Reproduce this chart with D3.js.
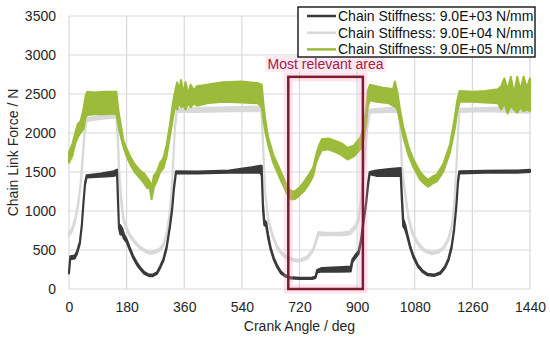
<!DOCTYPE html>
<html>
<head>
<meta charset="utf-8">
<script src="https://cdn.jsdelivr.net/npm/d3@7"></script>
<style>
  body { margin: 0; background: #fff; }
  svg { font-family: "Liberation Sans", Arial, sans-serif; }
</style>
</head>
<body>
<div id="chart"></div>
<script>
// Width and height
var chart_width  = 550;
var chart_height = 340;
var margin = {top: 16, right: 20, bottom: 51, left: 69};

// tick labels
var xTicks = [0, 180, 360, 540, 720, 900, 1080, 1260, 1440];
var yTicks = [0, 500, 1000, 1500, 2000, 2500, 3000, 3500];

// series names
var seriesNames = ['Chain Stiffness: 9.0E+03 N/mm', 'Chain Stiffness: 9.0E+04 N/mm', 'Chain Stiffness: 9.0E+05 N/mm'];

// 9.0E+03 N/mm : crank angle, lower and upper envelope of the force band
var angleK3 = [0,4,18,25,34,40,45,50,55,100,140,150,153,156,160,166,172,180,190,200,212,222,235,250,262,275,285,295,305,315,322,328,334,400,500,570,598,602,606,610,616,622,630,640,650,662,675,690,720,760,770,775,790,840,880,885,895,905,912,920,928,934,939,960,1000,1036,1040,1044,1050,1056,1066,1076,1090,1105,1120,1140,1160,1175,1185,1195,1203,1210,1215,1219,1300,1400,1440];
var loK3 = [200,380,390,450,580,800,1080,1330,1430,1440,1450,1460,1100,780,700,700,640,600,500,400,310,255,195,165,165,195,270,360,520,780,1000,1280,1480,1480,1490,1490,1490,1450,1000,820,800,650,500,370,280,200,160,135,128,128,140,210,225,220,225,340,400,450,600,840,1080,1320,1470,1450,1450,1450,1100,800,760,680,520,400,285,215,175,165,195,270,360,520,750,1050,1350,1480,1490,1490,1500];
var hiK3 = [230,420,430,480,610,830,1110,1360,1460,1480,1510,1530,1200,830,820,780,700,640,530,430,340,280,220,185,185,215,295,390,550,810,1040,1320,1510,1505,1520,1560,1580,1580,1100,880,860,700,530,400,305,225,180,155,145,148,160,245,270,280,290,380,440,490,640,880,1120,1360,1500,1520,1540,1550,1200,900,830,720,550,430,310,235,195,185,215,295,390,550,780,1090,1390,1510,1515,1520,1530];

// 9.0E+04 N/mm
var angleK4 = [0,10,19,28,36,42,48,55,80,120,148,152,157,163,170,180,192,205,222,240,253,268,284,296,305,313,320,326,331,337,400,500,600,604,608,613,622,635,649,665,680,700,722,745,763,772,779,800,850,878,895,904,912,919,926,932,940,1000,1030,1035,1040,1050,1060,1070,1080,1095,1110,1133,1150,1169,1185,1196,1204,1211,1216,1220,1300,1380,1440];
var loK4 = [680,740,860,1050,1300,1600,1950,2150,2170,2190,2200,1900,1400,1100,880,760,660,590,520,470,450,460,490,560,700,900,1220,1650,2050,2270,2270,2280,2280,2000,1650,1200,880,680,530,440,390,360,350,390,490,600,690,690,690,700,780,870,1100,1420,1800,2060,2260,2270,2270,2000,1500,1200,900,740,640,540,480,445,460,505,620,790,1100,1630,2050,2270,2280,2270,2260];
var hiK4 = [720,780,900,1100,1350,1680,2000,2190,2210,2230,2260,2100,1500,1200,920,790,690,615,545,500,475,490,520,590,730,940,1260,1700,2100,2310,2320,2330,2340,2150,1700,1250,920,710,560,470,420,385,375,420,520,640,730,720,720,740,820,900,1150,1470,1860,2110,2300,2320,2330,2100,1600,1250,950,780,670,570,510,475,490,535,650,820,1150,1680,2100,2310,2320,2330,2320];

// 9.0E+05 N/mm
var angleK5 = [0,10,20,28,36,45,52,57,80,110,148,154,162,170,180,191,205,222,235,245,252,258,265,274,285,295,305,315,325,332,338,345,350,357,364,372,380,390,400,430,480,540,590,602,608,614,622,638,659,680,692,705,720,735,750,763,772,780,790,810,830,850,870,890,910,920,928,934,940,960,980,1000,1012,1018,1026,1034,1044,1060,1076,1097,1110,1122,1135,1149,1169,1190,1205,1212,1220,1260,1300,1340,1350,1360,1370,1380,1390,1400,1410,1420,1430,1440];
var loK5 = [1620,1700,1870,1950,2000,2050,2200,2230,2240,2240,2250,2100,1950,1820,1700,1600,1500,1420,1350,1290,1300,1150,1300,1380,1500,1550,1700,1950,2200,2350,2300,2400,2330,2350,2300,2380,2330,2380,2350,2380,2400,2390,2380,2330,2150,2000,1850,1620,1420,1230,1150,1150,1200,1260,1350,1450,1620,1700,1780,1790,1760,1720,1660,1700,1790,1900,2100,2350,2420,2400,2390,2380,2350,2340,2300,2150,1950,1720,1560,1400,1350,1310,1350,1380,1500,1750,2050,2250,2400,2400,2390,2380,2300,2380,2250,2350,2300,2260,2330,2280,2300,2280];
var hiK5 = [1760,1850,2010,2120,2150,2300,2480,2530,2520,2530,2530,2300,2100,1900,1800,1700,1600,1520,1480,1420,1380,1300,1450,1500,1620,1680,1850,2100,2400,2550,2650,2550,2680,2500,2650,2500,2620,2550,2600,2620,2650,2660,2640,2620,2350,2150,1950,1720,1530,1330,1260,1250,1300,1380,1470,1560,1720,1830,1920,1930,1900,1870,1810,1840,1940,2050,2300,2550,2620,2600,2580,2570,2560,2660,2520,2300,2080,1830,1660,1500,1440,1400,1440,1470,1600,1850,2200,2400,2540,2530,2540,2560,2600,2700,2550,2720,2500,2720,2550,2720,2580,2700];

// highlighted region (crank angle range, force top)
var areaAngles = [685, 918];
var areaTop = 2720;
var areaLabel = 'Most relevant area';

var colors = ['#3a3a3a', '#d9d9d9', '#9dbb3a'];

var w = chart_width - margin.left - margin.right;
var h = chart_height - margin.top - margin.bottom;

var x = d3.scaleLinear().domain([0, 1440]).range([0, w]);
var y = d3.scaleLinear().domain([0, 3500]).range([h, 0]);

var svg = d3.select('#chart')
    .append('svg')
    .attr('width', chart_width)
    .attr('height', chart_height);

var g = svg.append('g')
    .attr('transform', 'translate(' + margin.left + ',' + margin.top + ')');

// grid
g.append('g').selectAll('line')
    .data(yTicks)
    .enter()
    .append('line')
    .attr('x1', 0).attr('x2', w)
    .attr('y1', function(d){ return y(d); })
    .attr('y2', function(d){ return y(d); })
    .attr('stroke', '#d9d9d9')
    .attr('stroke-width', 1.2);
g.append('g').selectAll('line')
    .data(xTicks)
    .enter()
    .append('line')
    .attr('y1', 0).attr('y2', h)
    .attr('x1', function(d){ return x(d); })
    .attr('x2', function(d){ return x(d); })
    .attr('stroke', '#d9d9d9')
    .attr('stroke-width', 1.2);

// axes (labels only)
var xAxis = g.append('g')
    .attr('transform', 'translate(0,' + h + ')')
    .call(d3.axisBottom(x).tickValues(xTicks).tickFormat(d3.format('d')).tickSize(0).tickPadding(13));
var yAxis = g.append('g')
    .call(d3.axisLeft(y).tickValues(yTicks).tickFormat(d3.format('d')).tickSize(0).tickPadding(13));
[xAxis, yAxis].forEach(function(a){
    a.select('.domain').remove();
    a.selectAll('text')
        .attr('font-size', 14)
        .attr('font-family', '"Liberation Sans", Arial, sans-serif')
        .attr('fill', '#262626');
});

// series as bands
var series = [
    {angle: angleK4, lo: loK4, hi: hiK4, color: colors[1]},
    {angle: angleK3, lo: loK3, hi: hiK3, color: colors[0]},
    {angle: angleK5, lo: loK5, hi: hiK5, color: colors[2]}
];

var area = d3.area()
    .x(function(d){ return x(d[0]); })
    .y0(function(d){ return y(d[1]); })
    .y1(function(d){ return y(d[2]); });

series.forEach(function(s){
    var pts = s.angle.map(function(a, i){ return [a, s.lo[i], s.hi[i]]; });
    g.append('path')
        .attr('d', area(pts))
        .attr('fill', s.color)
        .attr('stroke', s.color)
        .attr('stroke-width', 2)
        .attr('stroke-linejoin', 'round');
});

// highlighted area
var bx0 = x(areaAngles[0]), bx1 = x(areaAngles[1]), by0 = y(areaTop);
g.append('rect')
    .attr('x', bx0).attr('y', by0)
    .attr('width', bx1 - bx0).attr('height', h - by0)
    .attr('fill', 'none')
    .attr('stroke', '#ff9ccc')
    .attr('stroke-opacity', 0.28)
    .attr('stroke-width', 9);
g.append('rect')
    .attr('x', bx0).attr('y', by0)
    .attr('width', bx1 - bx0).attr('height', h - by0)
    .attr('fill', 'none')
    .attr('stroke', '#7b1d2b')
    .attr('stroke-width', 2.5);

var lblBg = g.append('rect').attr('fill', '#fde9f2');
var lbl = g.append('text')
    .attr('x', (bx0 + bx1) / 2)
    .attr('y', by0 - 8)
    .attr('text-anchor', 'middle')
    .attr('font-size', 14)
    .attr('fill', '#a3223f')
    .text(areaLabel);
var bb = lbl.node().getBBox();
lblBg.attr('x', bb.x - 2).attr('y', bb.y)
    .attr('width', bb.width + 4).attr('height', bb.height);

// legend
var leg = svg.append('g').attr('transform', 'translate(298,7)');
leg.append('rect')
    .attr('width', 237).attr('height', 50)
    .attr('fill', '#fff')
    .attr('stroke', '#000')
    .attr('stroke-width', 1.3);
seriesNames.forEach(function(name, i){
    var ly = 9 + i * 16.7;
    leg.append('line')
        .attr('x1', 9).attr('x2', 38)
        .attr('y1', ly).attr('y2', ly)
        .attr('stroke', colors[i])
        .attr('stroke-width', 2.5);
    leg.append('text')
        .attr('x', 40).attr('y', ly + 5)
        .attr('font-size', 14)
        .attr('fill', '#111')
        .text(name);
});

// axis titles
svg.append('text')
    .attr('x', margin.left + w / 2)
    .attr('y', 331)
    .attr('text-anchor', 'middle')
    .attr('font-size', 14)
    .attr('fill', '#262626')
    .text('Crank Angle / deg');
svg.append('text')
    .attr('transform', 'translate(18,' + (margin.top + h / 2) + ') rotate(-90)')
    .attr('text-anchor', 'middle')
    .attr('font-size', 14)
    .attr('fill', '#262626')
    .text('Chain Link Force / N');
</script>
</body>
</html>
